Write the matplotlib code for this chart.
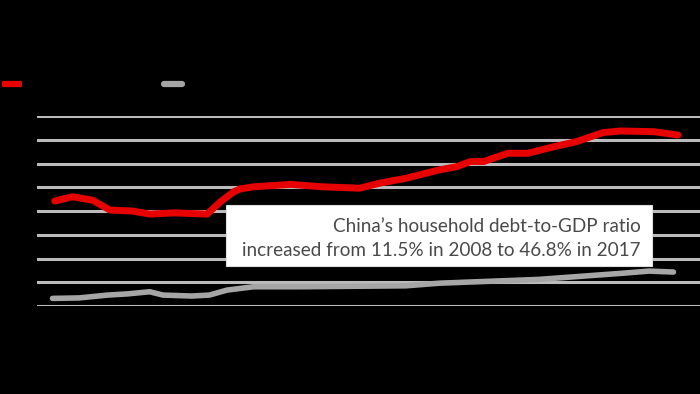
import matplotlib
matplotlib.use("Agg")
import matplotlib.pyplot as plt
from matplotlib.lines import Line2D
from matplotlib.patches import Rectangle

# --- data (y in % of GDP, x in years) ---
red_x = [1988.8, 1989.6, 1990.5, 1991.3, 1992.3, 1993.1, 1994.2, 1995.7, 1996.3,
         1996.9, 1997.2, 1997.8, 1999.5, 2000.9, 2002.6, 2003.5, 2004.7, 2006.2,
         2007.0, 2007.6, 2008.2, 2009.3, 2010.2, 2011.4, 2012.4, 2013.6, 2014.4,
         2015.9, 2017.0]
red_y = [44.2, 46.0, 44.6, 40.4, 40.0, 38.7, 39.2, 38.7, 43.9,
         48.1, 49.3, 50.2, 51.2, 50.2, 49.6, 51.7, 53.8, 57.3,
         58.7, 60.8, 60.8, 64.3, 64.3, 67.1, 69.2, 73.0, 73.7,
         73.4, 72.0]

gray_x = [1988.7, 1989.9, 1991.2, 1992.1, 1993.1, 1993.7, 1995.0, 1995.8, 1996.6,
          1997.8, 1998.1, 1999.9, 2004.7, 2006.2, 2010.7, 2014.5, 2015.7, 2016.8]
gray_y = [3.2, 3.4, 4.6, 5.1, 6.0, 4.6, 4.2, 4.6, 6.7,
          8.1, 8.1, 8.1, 8.5, 9.6, 11.2, 13.8, 14.7, 14.3]

y_ticks = [0, 10, 20, 30, 40, 50, 60, 70, 80]
note_lines = ["China\u2019s household debt-to-GDP ratio",
              "increased from 11.5% in 2008 to 46.8% in 2017"]

W, H = 700, 394
fig = plt.figure(figsize=(7.0, 3.94), dpi=100, facecolor="black")
ax = fig.add_axes([37 / W, 1 - 306 / H, (700 - 37) / W, (306 - 116) / H])
ax.set_facecolor("black")
ax.set_xlim(1988, 2018)
ax.set_ylim(0, 80)
ax.set_yticks(y_ticks)
ax.set_xticks([])
ax.tick_params(left=False, labelleft=False)
for s in ax.spines.values():
    s.set_visible(False)
ax.grid(axis="y", color="#bbbbbb", linewidth=2.2, zorder=0)
ax.set_axisbelow(True)

ax.plot(gray_x, gray_y, color="#a6a6a6", linewidth=4.0, solid_capstyle="round",
        zorder=2, clip_on=False)
ax.plot(red_x, red_y, color="#e60000", linewidth=5.0, solid_capstyle="round",
        solid_joinstyle="round", zorder=3, clip_on=False)

# annotation box
box = Rectangle((226 / W, 1 - 266 / H), (652 - 226) / W, (266 - 205) / H,
                transform=fig.transFigure, facecolor="white", edgecolor="#dddddd",
                linewidth=0.8, zorder=5)
fig.patches.append(box)
fig.text(641 / W, 1 - 226 / H, note_lines[0], ha="right", va="center",
         fontsize=13.6, color="#4a4a4a", family=["Lato", "DejaVu Sans"], zorder=6)
fig.text(641 / W, 1 - 250 / H, note_lines[1], ha="right", va="center",
         fontsize=13.6, color="#4a4a4a", family=["Lato", "DejaVu Sans"], zorder=6)

# legend swatches
fig.add_artist(Line2D([2 / W, 22 / W], [1 - 84 / H, 1 - 84 / H], color="#e60000",
                      linewidth=4.5, solid_capstyle="butt"))
fig.add_artist(Line2D([164 / W, 182 / W], [1 - 84 / H, 1 - 84 / H], color="#a6a6a6",
                      linewidth=4.5, solid_capstyle="round"))

fig.savefig("out.png", dpi=100, facecolor="black")
